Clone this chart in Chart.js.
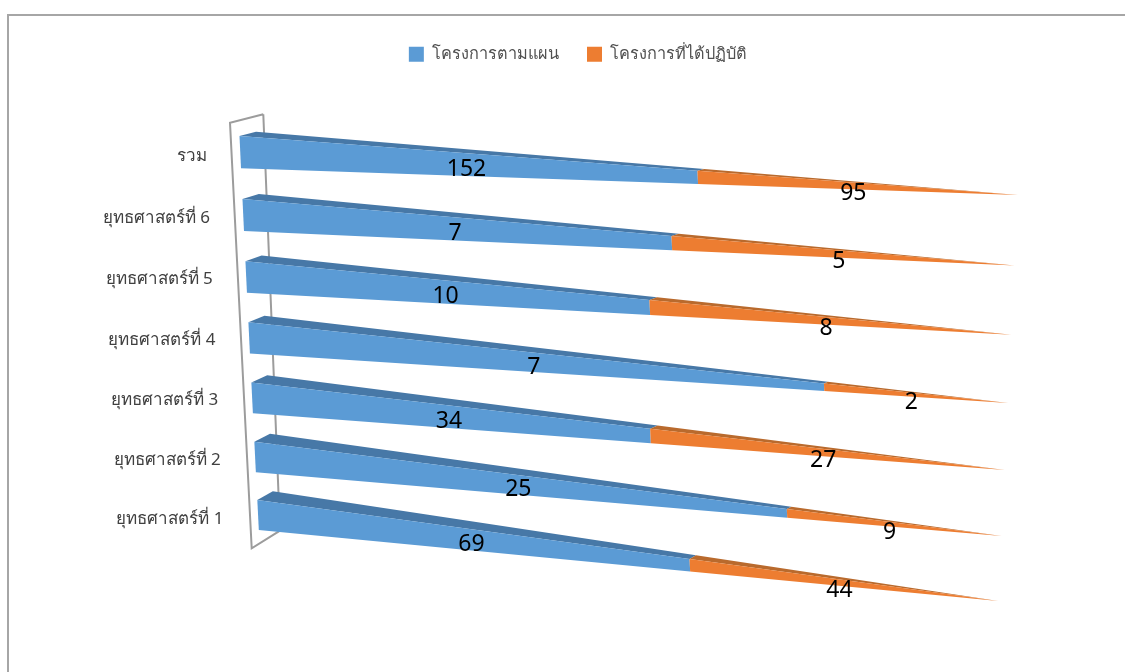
<!DOCTYPE html>
<html>
<head>
<meta charset="utf-8">
<style>
    html, body { margin: 0; padding: 0; background: #fff; overflow: hidden; }
    #frame { position: absolute; left: 7px; top: 14px; width: 1140px; height: 680px; border: 2px solid #a6a6a6; box-sizing: border-box; }
    #chart { position: absolute; left: 0; top: 0; }
</style>
<script src="https://cdn.jsdelivr.net/npm/chart.js@4"></script>
</head>
<body>
<div id="frame"></div>
<canvas id="chart" width="1125" height="672"></canvas>
<script>
const categories = ['รวม', 'ยุทธศาสตร์ที่ 6', 'ยุทธศาสตร์ที่ 5', 'ยุทธศาสตร์ที่ 4', 'ยุทธศาสตร์ที่ 3', 'ยุทธศาสตร์ที่ 2', 'ยุทธศาสตร์ที่ 1'];
const planned = [152, 7, 10, 7, 34, 25, 69];
const done = [95, 5, 8, 2, 27, 9, 44];
const seriesNames = ['โครงการตามแผน', 'โครงการที่ได้ปฏิบัติ'];

const FONT = "'Noto Sans', 'Liberation Sans', sans-serif";
const BLUE = '#5b9bd5', BLUE_TOP = '#4778a7';
const ORANGE = '#ed7d31', ORANGE_TOP = '#b96a2d';

// 100% stacked shares
const plannedPct = planned.map((v, i) => v / (v + done[i]) * 100);
const donePct = done.map((v, i) => v / (v + planned[i]) * 100);

// where a bar lands on the tilted 3D floor, c = row position counted from the top
function barFrame(c) {
    return {
        front: [239.5 + 2.97 * c, 136 + 63.53 * c - 0.478 * c * c],
        bottom: [241 + 2.97 * c, 168.3 + 63.16 * c - 0.478 * c * c],
        back: [256 + 2.8 * c, 131.8 + 62.78 * c - 0.478 * c * c],
        tip: [1018 - 3.3 * c, 195 + 71 * c - 0.556 * c * c]
    };
}

// perspective squeeze along the value axis
function depth(t) {
    return t / (t + 1.12 * (1 - t));
}

function lerp(a, b, t) {
    return [a[0] + (b[0] - a[0]) * t, a[1] + (b[1] - a[1]) * t];
}

function poly(ctx, pts, color) {
    ctx.fillStyle = color;
    ctx.beginPath();
    pts.forEach((p, i) => i ? ctx.lineTo(p[0], p[1]) : ctx.moveTo(p[0], p[1]));
    ctx.closePath();
    ctx.fill();
}

const bars3d = {
    id: 'bars3d',
    // the flat bars are replaced by the projected ones below
    beforeDatasetDraw() {
        return false;
    },
    beforeDatasetsDraw(chart) {
        // axis wall
        const ctx = chart.ctx;
        ctx.save();
        ctx.strokeStyle = '#9c9c9c';
        ctx.lineWidth = 2;
        ctx.lineJoin = 'miter';
        ctx.beginPath();
        ctx.moveTo(263.3, 114.3);
        ctx.lineTo(230, 122.7);
        ctx.lineTo(251.7, 548.3);
        ctx.lineTo(280, 530.7);
        ctx.lineTo(263.3, 114.3);
        ctx.stroke();
        ctx.restore();
    },
    afterDatasetsDraw(chart) {
        const ctx = chart.ctx;
        const area = chart.chartArea;
        const rows = chart.data.labels.length;
        const toT = px => depth(Math.min(1, Math.max(0, (px - area.left) / area.width)));
        const rowOf = el => (el.y - area.top) / area.height * rows - 0.5;

        chart.data.datasets.forEach((ds, d) => {
            const meta = chart.getDatasetMeta(d);
            meta.data.forEach(el => {
                const f = barFrame(rowOf(el));
                const t0 = toT(el.base), t1 = toT(el.x);
                poly(ctx, [lerp(f.front, f.tip, t0), lerp(f.back, f.tip, t0), lerp(f.back, f.tip, t1), lerp(f.front, f.tip, t1)], d ? ORANGE_TOP : BLUE_TOP);
                poly(ctx, [lerp(f.front, f.tip, t0), lerp(f.front, f.tip, t1), lerp(f.bottom, f.tip, t1), lerp(f.bottom, f.tip, t0)], ds.backgroundColor);
            });
        });

        // value labels
        ctx.save();
        ctx.font = '23px ' + FONT;
        ctx.fillStyle = '#000';
        ctx.textAlign = 'center';
        ctx.textBaseline = 'middle';
        const values = [planned, done];
        chart.data.datasets.forEach((ds, d) => {
            chart.getDatasetMeta(d).data.forEach((el, i) => {
                const f = barFrame(rowOf(el));
                const t = (toT(el.base) + toT(el.x)) / 2;
                const mid = lerp(lerp(f.front, f.tip, t), lerp(f.bottom, f.tip, t), 0.5);
                ctx.fillText(values[d][i], mid[0] - 2.5 - (t - 0.29) * 4, mid[1] + 4.2 + (t - 0.29) * 6);
            });
        });
        ctx.restore();

        // category labels follow the slanted wall
        ctx.save();
        ctx.font = '17px ' + FONT;
        ctx.fillStyle = '#404040';
        ctx.textAlign = 'right';
        ctx.textBaseline = 'middle';
        const yScale = chart.scales.y;
        chart.data.labels.forEach((label, i) => {
            const c = (yScale.getPixelForValue(i) - area.top) / area.height * rows - 0.5;
            ctx.fillText(label, 207.3 + 2.7 * c, 156 + 62.3 * c - 0.3 * c * c);
        });
        ctx.restore();
    }
};

new Chart(document.getElementById('chart'), {
    type: 'bar',
    plugins: [bars3d],
    data: {
        labels: categories,
        datasets: [
            { label: seriesNames[0], data: plannedPct, backgroundColor: BLUE, stack: 's' },
            { label: seriesNames[1], data: donePct, backgroundColor: ORANGE, stack: 's' }
        ]
    },
    options: {
        indexAxis: 'y',
        responsive: false,
        animation: false,
        layout: { padding: { left: 31, top: 18 } },
        scales: {
            x: { stacked: true, min: 0, max: 100, display: false },
            y: { stacked: true, display: false }
        },
        plugins: {
            tooltip: { enabled: false },
            legend: {
                position: 'top',
                labels: {
                    boxWidth: 15,
                    boxHeight: 15,
                    padding: 28,
                    color: '#505050',
                    font: { family: FONT, size: 16.3 }
                }
            }
        }
    }
});
</script>
</body>
</html>
